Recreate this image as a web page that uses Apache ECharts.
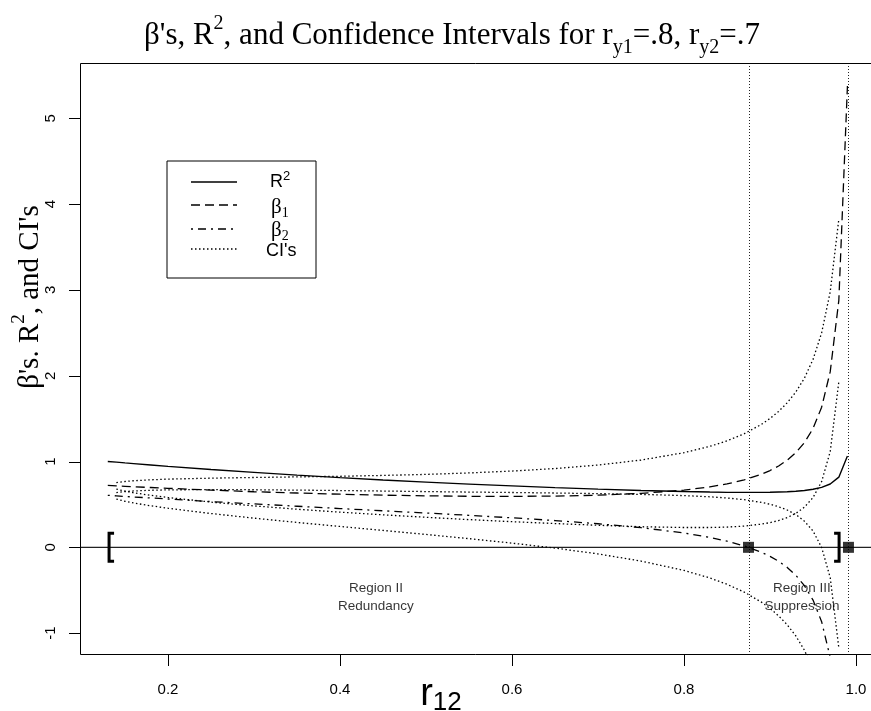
<!DOCTYPE html>
<html>
<head>
<meta charset="utf-8">
<script src="https://cdn.jsdelivr.net/npm/echarts@6/dist/echarts.min.js"></script>
<style>
  html, body { margin: 0; padding: 0; background: #fff; }
  #chart { width: 871px; height: 711px; }
</style>
</head>
<body>
<div id="chart"></div>
<script>
// ---- data ----
const r12   = [0.13,0.14,0.15,0.16,0.18,0.20,0.25,0.30,0.35,0.40,0.45,0.50,0.55,0.60,0.65,0.70,0.75,0.80,0.83,0.85,0.87,0.89,0.90,0.91,0.92,0.93,0.94,0.95,0.96,0.97,0.98,0.99];
const rSq   = [1.001,0.993,0.984,0.976,0.960,0.944,0.907,0.873,0.841,0.812,0.785,0.760,0.737,0.716,0.696,0.678,0.663,0.650,0.644,0.641,0.640,0.641,0.642,0.645,0.648,0.654,0.663,0.677,0.699,0.738,0.818,1.065];
const beta1 = [0.721,0.716,0.711,0.706,0.697,0.688,0.667,0.648,0.633,0.619,0.608,0.600,0.595,0.594,0.597,0.608,0.629,0.667,0.704,0.739,0.786,0.851,0.895,0.948,1.016,1.103,1.220,1.385,1.633,2.047,2.879,5.377];
const beta2 = [0.606,0.600,0.593,0.587,0.575,0.563,0.533,0.506,0.479,0.452,0.426,0.400,0.373,0.344,0.312,0.275,0.229,0.167,0.116,0.072,0.016,-0.058,-0.105,-0.163,-0.234,-0.326,-0.447,-0.615,-0.867,-1.286,-2.121,-4.623];
const ci1Upper = [null,0.754,0.767,0.776,0.787,0.795,0.806,0.814,0.821,0.828,0.838,0.850,0.867,0.889,0.918,0.959,1.017,1.103,1.177,1.241,1.324,1.433,1.502,1.584,1.685,1.810,1.972,2.190,2.499,2.979,3.826,null];
const ci1Lower = [null,0.678,0.655,0.636,0.606,0.581,0.527,0.483,0.444,0.410,0.379,0.350,0.323,0.299,0.277,0.257,0.240,0.231,0.231,0.236,0.248,0.270,0.288,0.312,0.347,0.396,0.468,0.580,0.766,1.116,1.931,null];
const ci2Upper = [null,0.638,0.650,0.657,0.665,0.670,0.673,0.671,0.667,0.662,0.656,0.650,0.644,0.639,0.633,0.626,0.617,0.603,0.589,0.575,0.555,0.524,0.502,0.473,0.435,0.382,0.305,0.190,-0.001,-0.355,-1.174,null];
const ci2Lower = [null,0.562,0.537,0.517,0.484,0.456,0.394,0.340,0.290,0.243,0.197,0.150,0.101,0.049,-0.009,-0.077,-0.160,-0.269,-0.357,-0.431,-0.522,-0.639,-0.712,-0.799,-0.903,-1.033,-1.199,-1.420,-1.734,-2.218,-3.069,null];

const xTicks = [0.2, 0.4, 0.6, 0.8, 1.0];
const yTicks = [-1, 0, 1, 2, 3, 4, 5];
const regionBounds = [0.875, 0.9912];          // vertical dotted lines & squares (at y = 0)
const zeroLine = [0];                           // horizontal reference line
const brackets = [[0.1315, 0, 1], [0.9803, 0, -1]]; // '[' and ']'
const regionLabels = [
  { x: 0.4418, y: -0.58, text: 'Region II\nRedundancy' },
  { x: 0.9371, y: -0.58, text: 'Region III\nSuppression' }
];

// ---- chart ----
const chart = echarts.init(document.getElementById('chart'), null, { renderer: 'canvas' });
const pairs = arr => r12.map((x, i) => [x, arr[i]]);
const SANS = '"Liberation Sans", Arial, sans-serif';
const SERIF = '"Liberation Serif", "Times New Roman", serif';

function lineSeries(name, arr, dash, width) {
  return {
    name, type: 'line', data: pairs(arr), symbol: 'none', smooth: false,
    connectNulls: false, clip: true, silent: true,
    lineStyle: { color: '#000', width: width || 1.2, type: dash }
  };
}

const option = {
  animation: false,
  backgroundColor: '#fff',
  grid: { left: 80, top: 63, right: 0, bottom: 56, show: false, containLabel: false },
  xAxis: {
    type: 'value', min: 0.0977, max: 1.0174,
    axisLine: { show: false, onZero: false },
    splitLine: { show: false },
    axisTick: { show: false },
    axisLabel: { customValues: xTicks, formatter: v => v.toFixed(1), fontFamily: SANS, fontSize: 15, color: '#000', margin: 27 }
  },
  yAxis: {
    type: 'value', min: -1.255, max: 5.645,
    axisLine: { show: false, onZero: false },
    splitLine: { show: false },
    axisTick: { show: false },
    axisLabel: { customValues: yTicks, formatter: v => String(v), rotate: 90, fontFamily: SANS, fontSize: 15, color: '#000', margin: 22 }
  },
  series: [
    {
      name: 'frame', type: 'custom', silent: true, z: 6,
      data: [[0.5, 0]],
      renderItem: (params) => {
        const cs = params.coordSys;
        const x0 = cs.x + 0.5, y0 = cs.y + 0.5, y1 = cs.y + cs.height - 0.5, x1 = cs.x + cs.width;
        return { type: 'polyline', shape: { points: [[x1, y0], [x0, y0], [x0, y1], [x1, y1]] },
                 style: { stroke: '#000', lineWidth: 1, fill: null } };
      }
    },
    {
      name: 'xticks', type: 'custom', silent: true, z: 6,
      data: xTicks.map(v => [v, 0]),
      renderItem: (params, api) => {
        const cs = params.coordSys;
        const x = Math.round(api.coord([api.value(0), 0])[0]) + 0.5;
        const y = cs.y + cs.height;
        return { type: 'line', shape: { x1: x, y1: y, x2: x, y2: y + 11 }, style: { stroke: '#000', lineWidth: 1 } };
      }
    },
    {
      name: 'yticks', type: 'custom', silent: true, z: 6,
      data: yTicks.map(v => [0.5, v]),
      renderItem: (params, api) => {
        const cs = params.coordSys;
        const y = Math.round(api.coord([0.5, api.value(1)])[1]) + 0.5;
        return { type: 'line', shape: { x1: cs.x - 11, y1: y, x2: cs.x, y2: y }, style: { stroke: '#000', lineWidth: 1 } };
      }
    },
    lineSeries('R2', rSq, 'solid', 1.4),
    lineSeries('beta1', beta1, [9, 5], 1.3),
    lineSeries('beta2', beta2, [2, 5, 8, 5], 1.3),
    lineSeries('ci1u', ci1Upper, [1.5, 2.5], 1.3),
    lineSeries('ci1l', ci1Lower, [1.5, 2.5], 1.3),
    lineSeries('ci2u', ci2Upper, [1.5, 2.5], 1.3),
    lineSeries('ci2l', ci2Lower, [1.5, 2.5], 1.3),
    {
      name: 'vlines', type: 'custom', silent: true, z: 1,
      data: regionBounds.map(v => [v]),
      renderItem: (params, api) => {
        const cs = params.coordSys;
        const x = Math.round(api.coord([api.value(0), 0])[0]) + 0.5;
        return { type: 'line', shape: { x1: x, y1: cs.y, x2: x, y2: cs.y + cs.height },
                 style: { stroke: '#222', lineWidth: 1, lineDash: [1, 2] } };
      }
    },
    {
      name: 'hline', type: 'custom', silent: true, z: 1,
      data: zeroLine.map(v => [0.5, v]),
      renderItem: (params, api) => {
        const cs = params.coordSys;
        const y = api.coord([0.5, api.value(1)])[1];
        return { type: 'line', shape: { x1: cs.x, y1: y, x2: cs.x + cs.width, y2: y },
                 style: { stroke: '#222', lineWidth: 1.3 } };
      }
    },
    {
      name: 'bounds', type: 'scatter', silent: true, z: 5,
      data: regionBounds.map(v => [v, 0]),
      symbol: 'rect', symbolSize: 11, itemStyle: { color: '#000' }
    },
    {
      name: 'brackets', type: 'custom', silent: true, z: 5,
      data: brackets,
      renderItem: (params, api) => {
        const p = api.coord([api.value(0), api.value(1)]);
        const d = api.value(2);
        return {
          type: 'polyline',
          shape: { points: [[p[0] + d * 5, p[1] - 14], [p[0], p[1] - 14], [p[0], p[1] + 14], [p[0] + d * 5, p[1] + 14]] },
          style: { stroke: '#000', lineWidth: 3, fill: null }
        };
      }
    },
    {
      name: 'regions', type: 'scatter', silent: true, symbolSize: 0,
      data: regionLabels.map(o => ({ value: [o.x, o.y], label: { formatter: o.text } })),
      label: { show: true, position: 'inside', fontFamily: SANS, fontSize: 13.5, color: '#000', lineHeight: 18, align: 'center' }
    }
  ],
  graphic: [
    {
      type: 'text', x: 452, y: 36, z: 10,
      style: {
        text: "{g|β}'s, R{sup|2}, and Confidence Intervals for r{sub|y1}=.8, r{sub|y2}=.7",
        font: '31px ' + SERIF, fill: '#000', align: 'center', verticalAlign: 'middle', lineHeight: 44,
        rich: {
          g: { fontSize: 31, fontFamily: SERIF, lineHeight: 44 },
          sup: { fontSize: 20, fontFamily: SERIF, verticalAlign: 'top', lineHeight: 20 },
          sub: { fontSize: 20, fontFamily: SERIF, verticalAlign: 'bottom', lineHeight: 20 }
        }
      }
    },
    {
      type: 'text', x: 30, y: 297, rotation: Math.PI / 2, z: 10,
      style: {
        text: "β's. R{sup|2}, and CI's",
        font: '29px ' + SERIF, fill: '#000', align: 'center', verticalAlign: 'middle', lineHeight: 40,
        rich: { sup: { fontSize: 19, fontFamily: SERIF, verticalAlign: 'top', lineHeight: 19 } }
      }
    },
    {
      type: 'text', x: 441, y: 695, z: 10,
      style: {
        text: 'r{sub|12}',
        font: '38px ' + SANS, fill: '#000', align: 'center', verticalAlign: 'middle', lineHeight: 42,
        rich: { sub: { fontSize: 26, fontFamily: SANS, verticalAlign: 'bottom', lineHeight: 26 } }
      }
    },
    {
      type: 'group', z: 10,
      children: [
        { type: 'rect', shape: { x: 167, y: 161, width: 149, height: 117 }, style: { fill: '#fff', stroke: '#000', lineWidth: 1 } },
        { type: 'line', shape: { x1: 191, y1: 182, x2: 237, y2: 182 }, style: { stroke: '#000', lineWidth: 1.4 } },
        { type: 'line', shape: { x1: 191, y1: 205, x2: 237, y2: 205 }, style: { stroke: '#000', lineWidth: 1.3, lineDash: [9, 5] } },
        { type: 'line', shape: { x1: 191, y1: 229, x2: 237, y2: 229 }, style: { stroke: '#000', lineWidth: 1.3, lineDash: [2, 5, 8, 5] } },
        { type: 'line', shape: { x1: 191, y1: 249, x2: 237, y2: 249 }, style: { stroke: '#000', lineWidth: 1.3, lineDash: [1.5, 2.5] } },
        { type: 'text', x: 270, y: 182, style: { text: 'R{sup|2}', font: '18px ' + SANS, fill: '#000', align: 'left', verticalAlign: 'middle', lineHeight: 24,
            rich: { sup: { fontSize: 13, fontFamily: SANS, verticalAlign: 'top', lineHeight: 13 } } } },
        { type: 'text', x: 271, y: 207, style: { text: 'β{sub|1}', font: '21px ' + SERIF, fill: '#000', align: 'left', verticalAlign: 'middle', lineHeight: 26,
            rich: { sub: { fontSize: 14, fontFamily: SERIF, verticalAlign: 'bottom', lineHeight: 14 } } } },
        { type: 'text', x: 271, y: 230, style: { text: 'β{sub|2}', font: '21px ' + SERIF, fill: '#000', align: 'left', verticalAlign: 'middle', lineHeight: 26,
            rich: { sub: { fontSize: 14, fontFamily: SERIF, verticalAlign: 'bottom', lineHeight: 14 } } } },
        { type: 'text', x: 266, y: 251, style: { text: "CI's", font: '18px ' + SANS, fill: '#000', align: 'left', verticalAlign: 'middle' } }
      ]
    }
  ]
};
chart.setOption(option);
</script>
</body>
</html>
